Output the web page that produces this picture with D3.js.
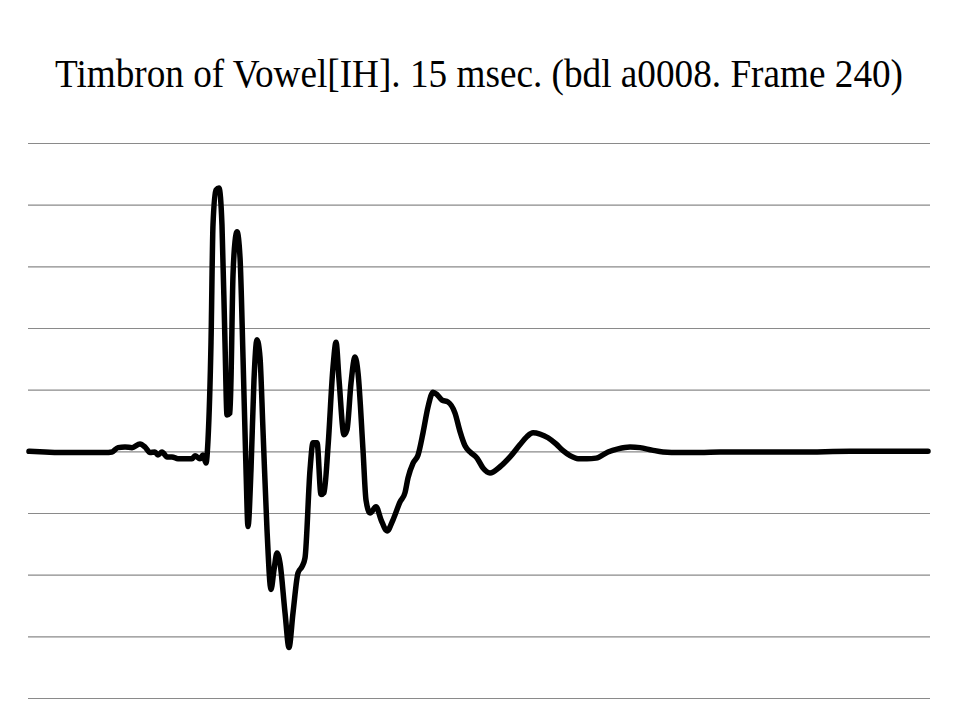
<!DOCTYPE html>
<html>
<head>
<meta charset="utf-8">
<script src="https://cdn.jsdelivr.net/npm/d3@7"></script>
<style>
  html, body { margin: 0; padding: 0; background: #fff; }
  svg { display: block; }
</style>
</head>
<body>
<svg id="chart" width="960" height="720"></svg>
<script>
// Title
const titleText = "Timbron of Vowel[IH]. 15 msec. (bdl a0008. Frame 240)";

// Time (ms) of each sample point
const timeMs = [
  0, 0.267, 0.484, 0.651, 0.884, 1.101, 1.268, 1.385, 1.485, 1.602,
  1.719, 1.852, 1.936, 2.019, 2.102, 2.152, 2.219, 2.303, 2.386, 2.486,
  2.603, 2.720, 2.770, 2.853, 2.903, 2.953, 2.987, 3.037, 3.070, 3.120,
  3.170, 3.220, 3.270, 3.304, 3.354, 3.404, 3.437, 3.471, 3.521, 3.571,
  3.621, 3.654, 3.704, 3.754, 3.804, 3.854, 3.904, 3.971, 4.038, 4.088,
  4.138, 4.188, 4.272, 4.338, 4.405, 4.489, 4.555, 4.605, 4.689, 4.739,
  4.806, 4.872, 4.922, 4.989, 5.073, 5.123, 5.173, 5.256, 5.306, 5.373,
  5.440, 5.490, 5.573, 5.623, 5.690, 5.790, 5.874, 5.974, 6.074, 6.191,
  6.274, 6.324, 6.408, 6.491, 6.574, 6.658, 6.741, 6.808, 6.891, 6.991,
  7.108, 7.192, 7.275, 7.359, 7.475, 7.575, 7.692, 7.859, 8.026, 8.193,
  8.310, 8.410, 8.526, 8.660, 8.793, 8.910, 9.027, 9.161, 9.311, 9.461,
  9.661, 9.828, 10.028, 10.195, 10.395, 10.579, 10.863, 11.196, 11.530, 12.197,
  12.865, 13.699, 15.0
];

// Amplitude at each time
const amplitude = [
  0, -0.001, -0.002, -0.002, -0.002, -0.002, -0.002, -0.001, 0.006, 0.007,
  0.006, 0.012, 0.007, -0.002, -0.001, -0.006, -0.001, -0.009, -0.009, -0.012,
  -0.012, -0.012, -0.007, -0.012, -0.006, -0.019, 0.019, 0.177, 0.367, 0.424,
  0.427, 0.367, 0.177, 0.059, 0.062, 0.286, 0.340, 0.356, 0.314, 0.152,
  -0.030, -0.122, -0.030, 0.116, 0.181, 0.153, 0.035, -0.127, -0.224, -0.192,
  -0.165, -0.181, -0.262, -0.318, -0.262, -0.197, -0.187, -0.173, -0.030, 0.014,
  0.014, -0.070, -0.067, 0.007, 0.137, 0.177, 0.116, 0.027, 0.035, 0.111,
  0.153, 0.127, 0.002, -0.079, -0.100, -0.090, -0.111, -0.129, -0.111, -0.082,
  -0.067, -0.043, -0.019, -0.006, 0.030, 0.072, 0.096, 0.092, 0.083, 0.080,
  0.062, 0.032, 0.009, -0.001, -0.011, -0.027, -0.035, -0.025, -0.009, 0.011,
  0.024, 0.030, 0.028, 0.022, 0.012, 0.001, -0.007, -0.012, -0.012, -0.011,
  -0.001, 0.004, 0.007, 0.006, 0.002, -0.001, -0.002, -0.002, -0.001, -0.001,
  -0.001, 0, 0
];

// Gridline values
const gridValues = [-0.4, -0.3, -0.2, -0.1, 0, 0.1, 0.2, 0.3, 0.4, 0.5];

const svg = d3.select("#chart");

const x = d3.scaleLinear().domain([0, 15]).range([29, 928]);
const y = d3.scaleLinear().domain([-0.4, 0.5]).range([698, 143]);

// Gridlines via axis (ticks drawn leftwards across the plot)
const gridAxis = d3.axisLeft(y).tickValues(gridValues).tickSize(902).tickFormat("");
const g = svg.append("g").attr("transform", "translate(930,0)").call(gridAxis);
g.select(".domain").remove();
g.selectAll(".tick line").attr("stroke", "#8a8a8a").attr("stroke-width", 1.2);

// Title
svg.append("text")
  .attr("x", 479).attr("y", 87)
  .attr("text-anchor", "middle")
  .attr("font-family", "'Liberation Serif', 'Times New Roman', serif")
  .attr("font-size", 39)
  .attr("textLength", 848)
  .attr("lengthAdjust", "spacingAndGlyphs")
  .attr("fill", "#000")
  .text(titleText);

const data = timeMs.map((t, i) => ({t, a: amplitude[i]}));
const line = d3.line().x(d => x(d.t)).y(d => y(d.a)).curve(d3.curveMonotoneX);

svg.append("path")
  .datum(data)
  .attr("d", line)
  .attr("fill", "none")
  .attr("stroke", "#000")
  .attr("stroke-width", 5.5)
  .attr("stroke-linejoin", "round")
  .attr("stroke-linecap", "round");
</script>
</body>
</html>
